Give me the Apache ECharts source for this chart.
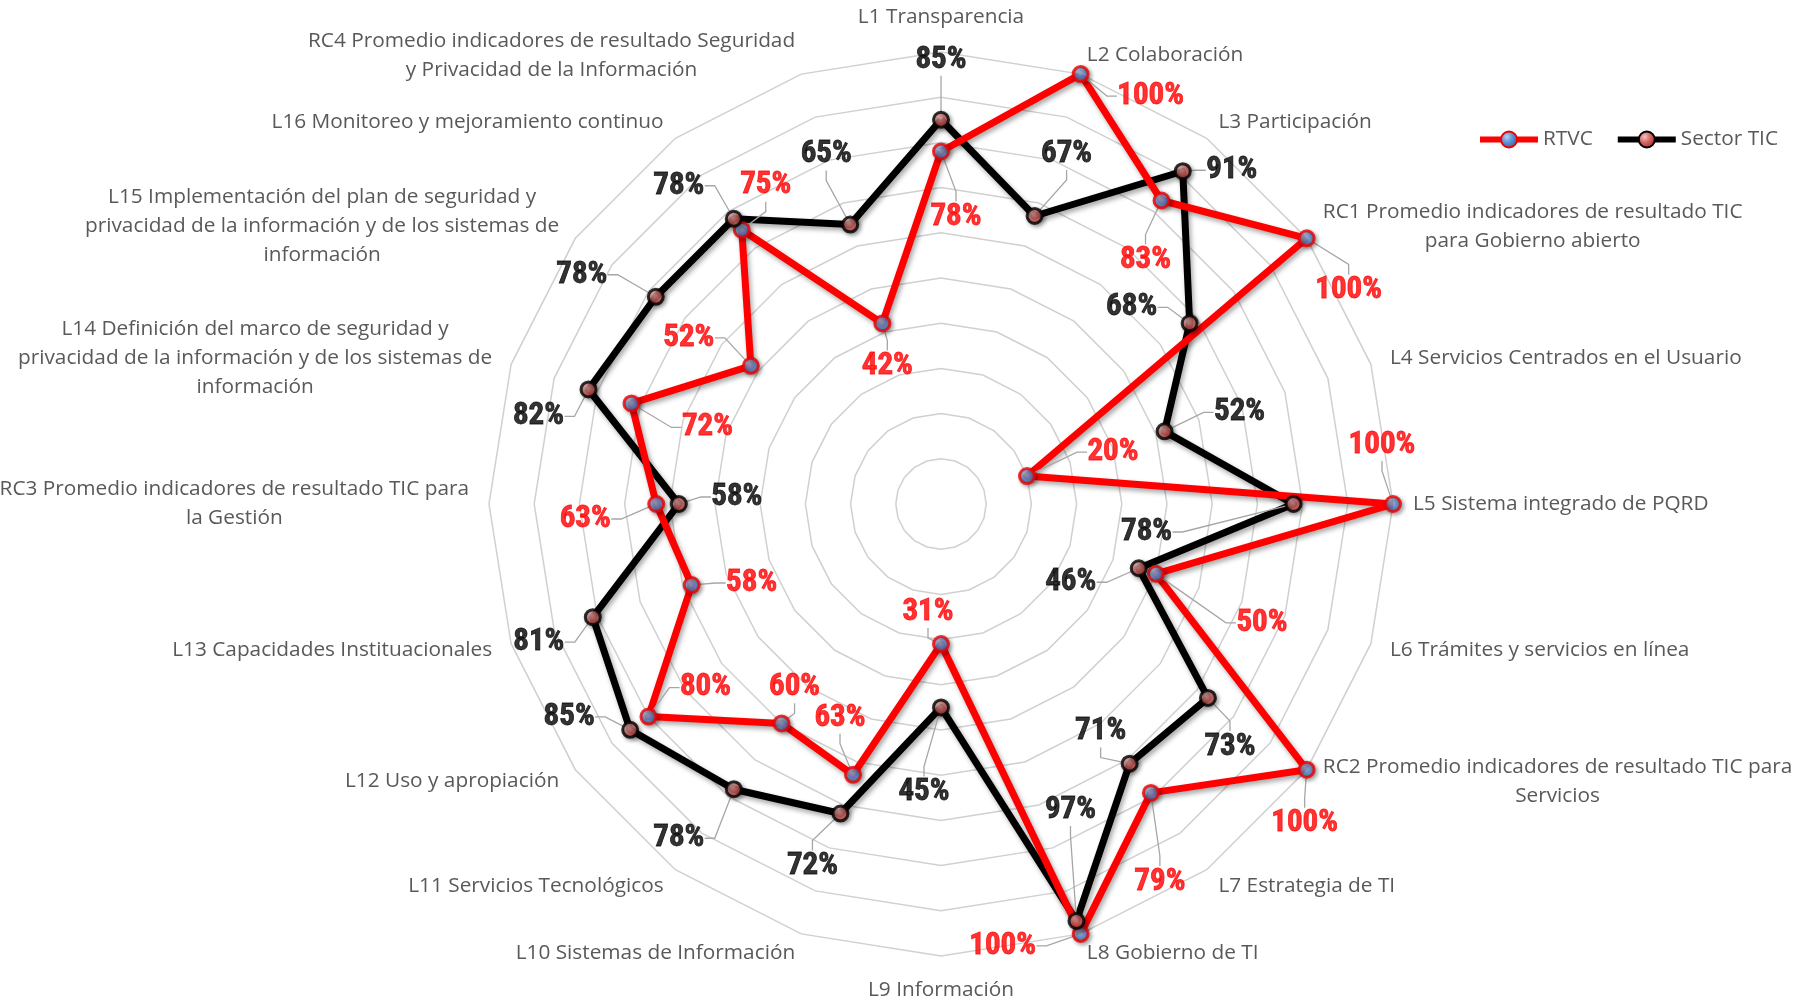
<!DOCTYPE html>
<html>
<head>
<meta charset="utf-8">
<title>RTVC vs Sector TIC</title>
<script src="https://cdn.jsdelivr.net/npm/echarts@6/dist/echarts.min.js"></script>
<style>
  html, body { margin: 0; padding: 0; background: #ffffff; }
  #chart { width: 1810px; height: 1003px; }
</style>
</head>
<body>
<div id="chart"></div>
<script>
// ---- data -------------------------------------------------------------
const categories = [
  'L1 Transparencia',
  'L2 Colaboración',
  'L3 Participación',
  'RC1 Promedio indicadores de resultado TIC\npara Gobierno abierto',
  'L4 Servicios Centrados en el Usuario',
  'L5 Sistema integrado de PQRD',
  'L6 Trámites y servicios en línea',
  'RC2 Promedio indicadores de resultado TIC para\nServicios',
  'L7 Estrategia de TI',
  'L8 Gobierno de TI',
  'L9 Información',
  'L10 Sistemas de Información',
  'L11 Servicios Tecnológicos',
  'L12 Uso y apropiación',
  'L13 Capacidades Instituacionales',
  'RC3 Promedio indicadores de resultado TIC para\nla Gestión',
  'L14 Definición del marco de seguridad y\nprivacidad de la información y de los sistemas de\ninformación',
  'L15 Implementación del plan de seguridad y\nprivacidad de la información y de los sistemas de\ninformación',
  'L16 Monitoreo y mejoramiento continuo',
  'RC4 Promedio indicadores de resultado Seguridad\ny Privacidad de la Información'
];

const rtvcValues   = [78, 100, 83, 100, 20, 100, 50, 100, 79, 100, 31, 63, 60, 80, 58, 63, 72, 52, 75, 42];
const sectorValues = [85, 67, 91, 68, 52, 78, 46, 73, 71, 97, 45, 72, 78, 85, 81, 58, 82, 78, 78, 65];

const seriesNames = ['RTVC', 'Sector TIC'];

// ---- label placement (pixel offset of each value label from its marker) --
const rtvcLabelOffsets = [
  [15, 66], [70, 22], [-16, 60], [42, 52], [86, -24], [-11, -59], [106, 49],
  [-2, 54], [9, 89], [-78, 12], [-13, -32], [-13, -57], [13, -36], [57, -29],
  [60, -2], [-71, 15], [76, 24], [-62, -28], [24, -44], [5, 43]
];
const sectorLabelOffsets = [
  [0, -60], [32, -62], [49, -1], [-58, -16], [75, -19], [-147, 28], [-68, 14],
  [22, 49], [-29, -32], [-6, -111], [-17, 85], [-28, 53], [-55, 49], [-61, -13],
  [-54, 25], [58, -7], [-50, 27], [-74, -22], [-55, -33], [-24, -70]
];

// ---- layout & style ---------------------------------------------------
const CX = 941, CY = 504, R = 452;
const N = categories.length;
const nameFont = '"Open Sans", Lato, sans-serif';
const nameSize = 20.8;
const valueFont = '"Roboto Condensed", "Open Sans Condensed", "Liberation Sans", sans-serif';

const blueBall = {
  type: 'radial', x: 0.38, y: 0.35, r: 0.75,
  colorStops: [
    { offset: 0, color: '#b4d0f4' },
    { offset: 0.45, color: '#5b8fd2' },
    { offset: 1, color: '#2b5a96' }
  ]
};
const redBall = {
  type: 'radial', x: 0.38, y: 0.35, r: 0.75,
  colorStops: [
    { offset: 0, color: '#f6c4c2' },
    { offset: 0.45, color: '#d2625e' },
    { offset: 1, color: '#952c2a' }
  ]
};
const markerShadow = { shadowColor: 'rgba(0,0,0,0.4)', shadowBlur: 4, shadowOffsetX: 2, shadowOffsetY: 2 };
const rtvcMarker = Object.assign({ color: blueBall, borderColor: '#f00000', borderWidth: 3 }, markerShadow);
const sectorMarker = Object.assign({ color: redBall, borderColor: '#000000', borderWidth: 3 }, markerShadow);

// closed ring of [radius, angleIndex] points for a polar line
const ringData = vals => vals.map((v, i) => [v, i]).concat([[vals[0], N]]);
const pointData = vals => vals.map((v, i) => [v, i]);

// the radar component places indicators counter-clockwise; list them in
// reverse (after the first) so the axes run clockwise from the top
const radarOrder = [0].concat(Array.from({ length: N - 1 }, (_, k) => N - 1 - k));

function lineSeries(name, values, color, marker) {
  return {
    type: 'line',
    name: name,
    coordinateSystem: 'polar',
    data: ringData(values),
    showSymbol: false,
    symbol: 'circle',
    symbolSize: 15,
    itemStyle: marker,
    lineStyle: {
      color: color, width: 7, join: 'round',
      shadowColor: 'rgba(0,0,0,0.35)', shadowBlur: 5, shadowOffsetX: 2, shadowOffsetY: 3
    },
    clip: false,
    silent: true,
    z: 2
  };
}

function markerSeries(name, values, labelColor, marker, offsets) {
  return {
    type: 'scatter',
    name: name,
    coordinateSystem: 'polar',
    data: pointData(values),
    symbol: 'circle',
    symbolSize: 15,
    itemStyle: marker,
    label: {
      show: true,
      position: 'inside',
      formatter: p => p.value[0] + '%',
      color: labelColor,
      fontFamily: valueFont,
      fontWeight: 'bold',
      fontSize: 31,
      textBorderColor: labelColor,
      textBorderWidth: 0.8
    },
    labelLine: {
      show: true,
      length2: 10,
      lineStyle: { color: '#a6a6a6', width: 1.3 }
    },
    labelLayout: p => ({ dx: offsets[p.dataIndex][0], dy: offsets[p.dataIndex][1] }),
    silent: true,
    z: 3
  };
}

const chart = echarts.init(document.getElementById('chart'), null, { renderer: 'canvas' });

chart.setOption({
  animation: false,
  backgroundColor: '#ffffff',
  legend: {
    data: seriesNames,
    left: 1472,
    top: 124,
    itemWidth: 58,
    itemHeight: 20,
    itemGap: 22,
    selectedMode: false,
    lineStyle: { width: 6 },
    textStyle: { color: '#595959', fontFamily: nameFont, fontSize: nameSize }
  },
  radar: {
    center: [CX, CY],
    radius: R,
    startAngle: 90,
    shape: 'polygon',
    splitNumber: 10,
    axisNameGap: 20,
    indicator: radarOrder.map(i => ({ name: categories[i], min: 0, max: 100 })),
    axisName: {
      color: '#595959',
      fontFamily: nameFont,
      fontSize: nameSize,
      lineHeight: 29,
      formatter: name => '{n|' + name + '}',
      rich: {
        n: { align: 'center', color: '#595959', fontFamily: nameFont, fontSize: nameSize, lineHeight: 29 }
      }
    },
    axisLine: { show: false },
    axisTick: { show: false },
    axisLabel: { show: false },
    splitArea: { show: false },
    splitLine: { lineStyle: { color: '#d0d0d0', width: 1.5 } }
  },
  polar: { center: [CX, CY], radius: R },
  angleAxis: { type: 'value', min: 0, max: N, startAngle: 90, clockwise: true, show: false },
  radiusAxis: { type: 'value', min: 0, max: 100, show: false },
  series: [
    lineSeries('Sector TIC', sectorValues, '#000000', sectorMarker),
    lineSeries('RTVC', rtvcValues, '#ff0000', rtvcMarker),
    markerSeries('RTVC', rtvcValues, '#ff0000', rtvcMarker, rtvcLabelOffsets),
    markerSeries('Sector TIC', sectorValues, '#000000', sectorMarker, sectorLabelOffsets)
  ]
});
</script>
</body>
</html>
